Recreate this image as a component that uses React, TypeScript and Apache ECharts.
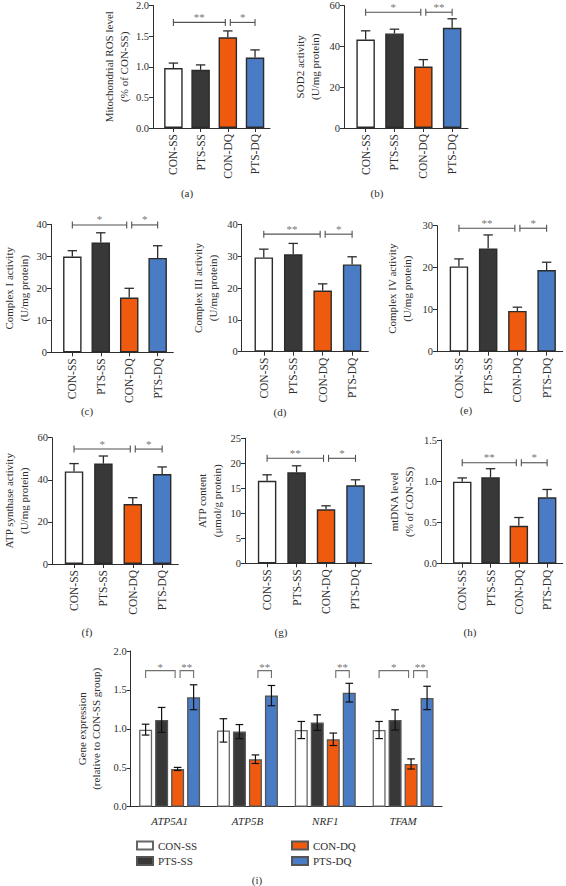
import React, { useEffect, useRef } from 'react';
import * as echarts from 'echarts';

// ---------- data ----------
const groups = ['CON-SS', 'PTS-SS', 'CON-DQ', 'PTS-DQ'];
const genes = ['ATP5A1', 'ATP5B', 'NRF1', 'TFAM'];

const rosMean = [0.98, 0.95, 1.48, 1.15];
const rosErr = [0.08, 0.08, 0.105, 0.125];
const sod2Mean = [43.3, 46.3, 30.1, 49.1];
const sod2Err = [4.3, 2.1, 3.4, 4.4];
const cI_Mean = [29.9, 34.3, 17.1, 29.5];
const cI_Err = [1.85, 3.05, 2.9, 3.8];
const cIII_Mean = [29.6, 30.6, 19.2, 27.4];
const cIII_Err = [2.6, 3.4, 2.1, 2.4];
const cIV_Mean = [20.3, 24.6, 9.7, 19.45];
const cIV_Err = [1.8, 3.2, 0.9, 1.85];
const atpsMean = [44.0, 47.7, 28.5, 42.75];
const atpsErr = [3.7, 3.6, 3.0, 3.35];
const atpMean = [16.5, 18.2, 10.8, 15.6];
const atpErr = [1.2, 1.3, 0.7, 1.1];
const mtMean = [0.995, 1.047, 0.46, 0.805];
const mtErr = [0.045, 0.105, 0.1, 0.095];

// gene expression, per group across genes
const geneConSS = [0.99, 0.98, 0.985, 0.985];
const geneConSSErr = [0.07, 0.15, 0.11, 0.11];
const genePtsSS = [1.115, 0.965, 1.08, 1.115];
const genePtsSSErr = [0.16, 0.09, 0.1, 0.13];
const geneConDQ = [0.485, 0.61, 0.866, 0.549];
const geneConDQErr = [0.02, 0.055, 0.08, 0.065];
const genePtsDQ = [1.406, 1.427, 1.465, 1.397];
const genePtsDQErr = [0.16, 0.13, 0.12, 0.15];

// significance brackets: [from group, to group, y value, label]
const sigA = [[0, 2, 1.724, '**'], [2, 3, 1.724, '*']];
const sigB = [[0, 2, 56.7, '*'], [2, 3, 56.7, '**']];
const sigC = [[0, 2, 39.8, '*'], [2, 3, 39.8, '*']];
const sigD = [[0, 2, 36.9, '**'], [2, 3, 36.9, '*']];
const sigE = [[0, 2, 29.4, '**'], [2, 3, 29.4, '*']];
const sigF = [[0, 2, 54.6, '*'], [2, 3, 54.6, '*']];
const sigG = [[0, 2, 21.0, '**'], [2, 3, 21.0, '*']];
const sigH = [[0, 2, 1.224, '**'], [2, 3, 1.224, '*']];
// gene brackets: [gene index, from group, to group, y value, label]
const sigI = [
  [0, 0, 2, 1.748, '*'], [0, 2, 3, 1.748, '**'],
  [1, 2, 3, 1.748, '**'],
  [2, 2, 3, 1.748, '**'],
  [3, 0, 2, 1.748, '*'], [3, 2, 3, 1.748, '**'],
];

// ---------- styles ----------
const FONT = '"Liberation Serif", "DejaVu Serif", serif';
const TXT = '#2e2e2e';
const STAR = '#777777';
const fills = ['#ffffff', '#383838', '#f05a0e', '#4a7cc6'];
const borderDark = '#2b2b2b';
const borderI = '#666666';

type Panel = {
  key: string; mean: number[]; err: number[]; sig: any[];
  max: number; interval: number; dec: number; name: string;
  left: number; right: number; top: number; bottom: number; nameGap: number;
  tag: string; tagX: number; tagY: number;
};

const panels: Panel[] = [
  { key: 'a', mean: rosMean, err: rosErr, sig: sigA, max: 2, interval: 0.5, dec: 1, name: 'Mitochondrial ROS level\n(% of CON-SS)', left: 153, right: 270, top: 4.7, bottom: 128, nameGap: 20, tag: '(a)', tagX: 187, tagY: 193 },
  { key: 'b', mean: sod2Mean, err: sod2Err, sig: sigB, max: 60, interval: 20, dec: 0, name: 'SOD2 activity\n(U/mg protein)', left: 344, right: 468, top: 5.3, bottom: 128, nameGap: 22, tag: '(b)', tagX: 377, tagY: 193 },
  { key: 'c', mean: cI_Mean, err: cI_Err, sig: sigC, max: 40, interval: 10, dec: 0, name: 'Complex I activity\n(U/mg protein)', left: 49.3, right: 173.3, top: 224.3, bottom: 352.3, nameGap: 20, tag: '(c)', tagX: 87, tagY: 411 },
  { key: 'd', mean: cIII_Mean, err: cIII_Err, sig: sigD, max: 40, interval: 10, dec: 0, name: 'Complex III activity\n(U/mg protein)', left: 241.7, right: 368.3, top: 224.3, bottom: 351.7, nameGap: 21, tag: '(d)', tagX: 280, tagY: 412 },
  { key: 'e', mean: cIV_Mean, err: cIV_Err, sig: sigE, max: 30, interval: 10, dec: 0, name: 'Complex IV activity\n(U/mg protein)', left: 437, right: 562.7, top: 225.7, bottom: 351.7, nameGap: 23, tag: '(e)', tagX: 466, tagY: 410 },
  { key: 'f', mean: atpsMean, err: atpsErr, sig: sigF, max: 60, interval: 20, dec: 0, name: 'ATP synthase activity\n(U/mg protein)', left: 51.7, right: 178.3, top: 437.7, bottom: 564, nameGap: 21, tag: '(f)', tagX: 87, tagY: 632 },
  { key: 'g', mean: atpMean, err: atpErr, sig: sigG, max: 25, interval: 5, dec: 0, name: 'ATP content\n(μmol/g protein)', left: 245, right: 371.7, top: 438.3, bottom: 563.3, nameGap: 21, tag: '(g)', tagX: 281, tagY: 632 },
  { key: 'h', mean: mtMean, err: mtErr, sig: sigH, max: 1.5, interval: 0.5, dec: 1, name: 'mtDNA level\n(% of CON-SS)', left: 441, right: 562.7, top: 440, bottom: 563.7, nameGap: 25, tag: '(h)', tagX: 470, tagY: 632 },
];

const XMIN = -0.75;
const XMAX = 3.55;

function buildOption() {
  const grid: any[] = [];
  const xAxis: any[] = [];
  const yAxis: any[] = [];
  const series: any[] = [];
  const graphic: any[] = [];

  const axisLineStyle = { color: TXT, width: 1 };

  panels.forEach((p, gi) => {
    grid.push({ left: p.left, top: p.top, width: p.right - p.left, height: p.bottom - p.top, containLabel: false });
    xAxis.push({
      gridIndex: gi, type: 'value', min: XMIN, max: XMAX,
      splitLine: { show: false },
      axisLine: { show: true, onZero: false, lineStyle: axisLineStyle },
      axisTick: { show: true, customValues: [0, 1, 2, 3], length: 4, lineStyle: axisLineStyle },
      axisLabel: {
        customValues: [0, 1, 2, 3], rotate: 90, margin: 6,
        formatter: (v: number) => groups[Math.round(v)],
        fontFamily: FONT, fontSize: 11.5, color: TXT,
      },
    });
    yAxis.push({
      gridIndex: gi, type: 'value', min: 0, max: p.max, interval: p.interval,
      name: p.name, nameLocation: 'middle', nameGap: p.nameGap, nameRotate: 90,
      nameTextStyle: { fontFamily: FONT, fontSize: 11, color: TXT, lineHeight: 15 },
      splitLine: { show: false },
      axisLine: { show: true, onZero: false, lineStyle: axisLineStyle },
      axisTick: { show: true, length: 4, lineStyle: axisLineStyle },
      axisLabel: { fontFamily: FONT, fontSize: 10.5, color: TXT, margin: 4, formatter: (v: number) => v.toFixed(p.dec) },
    });

    series.push({
      type: 'bar', name: 'bars-' + p.key, xAxisIndex: gi, yAxisIndex: gi, barWidth: 18.5,
      data: p.mean.map((m, i) => ({ value: [i, m], itemStyle: { color: fills[i], borderColor: borderDark, borderWidth: 1.4 } })),
      z: 2,
    });
    series.push({
      type: 'custom', name: 'err-' + p.key, xAxisIndex: gi, yAxisIndex: gi, z: 3,
      data: p.mean.map((m, i) => [i, m, p.err[i]]),
      renderItem: (params: any, api: any) => {
        const x = api.value(0), m = api.value(1), e = api.value(2);
        const b = api.coord([x, m]);
        const t = api.coord([x, m + e]);
        const st = { stroke: borderDark, lineWidth: 1.3 };
        return {
          type: 'group', children: [
            { type: 'line', shape: { x1: b[0], y1: b[1], x2: t[0], y2: t[1] }, style: st },
            { type: 'line', shape: { x1: t[0] - 4.7, y1: t[1], x2: t[0] + 4.7, y2: t[1] }, style: st },
          ],
        };
      },
    });
    series.push({
      type: 'custom', name: 'sig-' + p.key, xAxisIndex: gi, yAxisIndex: gi, z: 3,
      data: p.sig.map((s: any) => [s[0], s[2]]),
      clip: false,
      renderItem: (params: any, api: any) => {
        const s = p.sig[params.dataIndex];
        const a = api.coord([s[0], s[2]]);
        const b = api.coord([s[1], s[2]]);
        const x1 = a[0] + (s[0] > 0 ? 2.5 : 0);
        const x2 = b[0] - (s[1] < 3 ? 2.5 : 0);
        const y = a[1];
        const st = { stroke: '#505050', lineWidth: 1.1 };
        return {
          type: 'group', children: [
            { type: 'line', shape: { x1, y1: y, x2, y2: y }, style: st },
            { type: 'line', shape: { x1, y1: y - 3.5, x2: x1, y2: y + 3.5 }, style: st },
            { type: 'line', shape: { x1: x2, y1: y - 3.5, x2, y2: y + 3.5 }, style: st },
            { type: 'text', x: (x1 + x2) / 2, y: Math.max(y - 5.5, 6), style: { text: s[3], fill: STAR, font: '11px ' + FONT, textAlign: 'center', textVerticalAlign: 'middle' } },
          ],
        };
      },
    });

    graphic.push({ type: 'text', x: p.tagX, y: p.tagY, style: { text: p.tag, fill: TXT, font: '11px ' + FONT, textAlign: 'center', textVerticalAlign: 'middle' } });
  });

  // ---------- panel (i) ----------
  const gi = panels.length;
  grid.push({ left: 130.7, top: 651, width: 442 - 130.7, height: 806.7 - 651 });
  xAxis.push({
    gridIndex: gi, type: 'category', data: genes,
    axisLine: { show: true, onZero: false, lineStyle: axisLineStyle },
    axisTick: { show: false },
    axisLabel: { fontFamily: FONT, fontSize: 11, fontStyle: 'italic', color: TXT, margin: 9 },
  });
  yAxis.push({
    gridIndex: gi, type: 'value', min: 0, max: 2, interval: 0.5,
    name: 'Gene expression\n(relative to CON-SS group)', nameLocation: 'middle', nameGap: 23, nameRotate: 90,
    nameTextStyle: { fontFamily: FONT, fontSize: 11, color: TXT, lineHeight: 13.5 },
    splitLine: { show: false },
    axisLine: { show: true, onZero: false, lineStyle: axisLineStyle },
    axisTick: { show: true, length: 4, lineStyle: axisLineStyle },
    axisLabel: { fontFamily: FONT, fontSize: 10.5, color: TXT, margin: 4, formatter: (v: number) => v.toFixed(1) },
  });
  const geneMeans = [geneConSS, genePtsSS, geneConDQ, genePtsDQ];
  const geneErrs = [geneConSSErr, genePtsSSErr, geneConDQErr, genePtsDQErr];
  const BW = 13;
  const STEP = 16;
  geneMeans.forEach((vals, k) => {
    series.push({
      type: 'bar', name: groups[k], xAxisIndex: gi, yAxisIndex: gi, barWidth: BW, barGap: '23%',
      itemStyle: { color: fills[k], borderColor: k === 0 ? borderI : '#555555', borderWidth: 1.3 },
      data: vals, z: 2,
    });
  });
  const errData: number[][] = [];
  geneMeans.forEach((vals, k) => vals.forEach((m, c) => errData.push([c, k, m, geneErrs[k][c]])));
  series.push({
    type: 'custom', name: 'err-i', xAxisIndex: gi, yAxisIndex: gi, z: 3,
    data: errData,
    renderItem: (params: any, api: any) => {
      const c = api.value(0), k = api.value(1), m = api.value(2), e = api.value(3);
      const t = api.coord([c, m + e]);
      const b = api.coord([c, m - e]);
      const x = t[0] + (k - 1.5) * STEP;
      const st = { stroke: '#111111', lineWidth: 1.2 };
      return {
        type: 'group', children: [
          { type: 'line', shape: { x1: x, y1: b[1], x2: x, y2: t[1] }, style: st },
          { type: 'line', shape: { x1: x - 3.8, y1: t[1], x2: x + 3.8, y2: t[1] }, style: st },
          { type: 'line', shape: { x1: x - 3.8, y1: b[1], x2: x + 3.8, y2: b[1] }, style: st },
        ],
      };
    },
  });
  series.push({
    type: 'custom', name: 'sig-i', xAxisIndex: gi, yAxisIndex: gi, z: 3,
    data: sigI.map((s: any) => [s[0], s[3]]),
    renderItem: (params: any, api: any) => {
      const s: any = sigI[params.dataIndex];
      const p = api.coord([s[0], s[3]]);
      const x1 = p[0] + (s[1] - 1.5) * STEP + (s[1] > 0 ? 2.5 : 0);
      const x2 = p[0] + (s[2] - 1.5) * STEP - (s[2] < 3 ? 2.5 : 0);
      const y = p[1];
      const st = { stroke: '#707070', lineWidth: 1.1 };
      return {
        type: 'group', children: [
          { type: 'polyline', shape: { points: [[x1, y + 7.5], [x1, y], [x2, y], [x2, y + 7.5]] }, style: { ...st, fill: null } },
          { type: 'text', x: (x1 + x2) / 2, y: y - 4, style: { text: s[4], fill: STAR, font: '11px ' + FONT, textAlign: 'center', textVerticalAlign: 'middle' } },
        ],
      };
    },
  });
  graphic.push({ type: 'text', x: 257, y: 879.5, style: { text: '(i)', fill: TXT, font: '11px ' + FONT, textAlign: 'center', textVerticalAlign: 'middle' } });

  const legendCommon = {
    orient: 'vertical', itemWidth: 16, itemHeight: 8, itemGap: 4.5, icon: 'rect',
    textStyle: { fontFamily: FONT, fontSize: 11, color: TXT },
    selectedMode: false,
  };

  return {
    animation: false,
    backgroundColor: '#ffffff',
    grid, xAxis, yAxis, series, graphic,
    legend: [
      { ...legendCommon, left: 131, top: 835, data: ['CON-SS', 'PTS-SS'] },
      { ...legendCommon, left: 286, top: 835, data: ['CON-DQ', 'PTS-DQ'] },
    ],
  };
}

export default function App() {
  const ref = useRef<HTMLDivElement>(null);
  useEffect(() => {
    document.body.style.margin = '0';
    const chart = echarts.init(ref.current!, undefined, { renderer: 'svg' });
    chart.setOption(buildOption() as any);
    return () => chart.dispose();
  }, []);
  return <div ref={ref} style={{ position: 'absolute', left: 0, top: 0, width: 566, height: 886, background: '#fff' }} />;
}
